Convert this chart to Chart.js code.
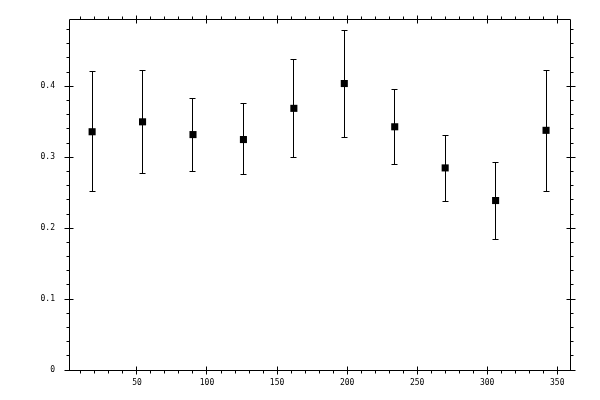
<!DOCTYPE html>
<html>
<head>
<meta charset="utf-8">
<script src="https://cdn.jsdelivr.net/npm/chart.js@4"></script>
<style>
    html, body { margin: 0; padding: 0; background: #fff; }
    #wrap { width: 600px; height: 400px; }
</style>
</head>
<body>
<div id="wrap"><canvas id="points_erreurs"></canvas></div>
<script>
// valeurs
const angles = [18, 54, 90, 126, 162, 198, 234, 270, 306, 342];
const moyennes = [0.336, 0.350, 0.332, 0.325, 0.369, 0.404, 0.343, 0.285, 0.239, 0.338];
const hautErreur = [0.421, 0.423, 0.383, 0.376, 0.438, 0.479, 0.396, 0.331, 0.293, 0.423];
const basErreur = [0.253, 0.278, 0.281, 0.276, 0.300, 0.329, 0.291, 0.239, 0.185, 0.253];

const xTicks = [50, 100, 150, 200, 250, 300, 350];
const xTickLabels = ['50', '100', '150', '200', '250', '300', '350'];
const yTicks = [0, 0.1, 0.2, 0.3, 0.4];
const yTickLabels = ['0', '0.1', '0.2', '0.3', '0.4'];

const snap = (v) => Math.round(v - 0.5) + 0.5;

const errorBars = {
    id: 'errorBars',
    beforeDatasetsDraw(chart) {
        let ctx = chart.ctx;
        let x = chart.scales.x;
        let y = chart.scales.y;
        ctx.save();
        ctx.strokeStyle = '#000';
        ctx.lineWidth = 1;
        angles.forEach((a, i) => {
            let px = snap(x.getPixelForValue(a));
            let top = Math.round(y.getPixelForValue(hautErreur[i])) + 0.5;
            let bottom = Math.round(y.getPixelForValue(basErreur[i])) + 0.5;
            ctx.beginPath();
            ctx.moveTo(px, top);
            ctx.lineTo(px, bottom);
            ctx.moveTo(px - 3, top);
            ctx.lineTo(px + 3, top);
            ctx.moveTo(px - 3, bottom);
            ctx.lineTo(px + 3, bottom);
            ctx.stroke();
        });
        ctx.restore();
    }
};

// cadre et graduations (majeures traversantes, mineures vers l'exterieur)
const frame = {
    id: 'frame',
    afterDraw(chart) {
        let ctx = chart.ctx;
        let area = chart.chartArea;
        let x = chart.scales.x;
        let y = chart.scales.y;
        let left = snap(area.left);
        let right = snap(area.right);
        let top = snap(area.top);
        let bottom = snap(area.bottom);
        ctx.save();
        ctx.strokeStyle = '#000';
        ctx.lineWidth = 1;
        ctx.beginPath();
        ctx.rect(left, top, right - left, bottom - top);
        // x
        for (let v = 10; v < x.max; v += 10) {
            let px = snap(x.getPixelForValue(v));
            let major = xTicks.includes(v);
            ctx.moveTo(px, bottom + (major ? 4 : 3));
            ctx.lineTo(px, bottom - (major ? 4 : 0));
            ctx.moveTo(px, top - (major ? 4 : 3));
            ctx.lineTo(px, top + (major ? 4 : 0));
        }
        // y
        for (let k = 0; k * 0.02 < y.max; k++) {
            let v = k * 0.02;
            let py = snap(y.getPixelForValue(v));
            let major = k % 5 === 0;
            ctx.moveTo(left - (major ? 5 : 3), py);
            ctx.lineTo(left + (major ? 4 : 0), py);
            ctx.moveTo(right + (major ? 5 : 3), py);
            ctx.lineTo(right - (major ? 4 : 0), py);
        }
        ctx.stroke();
        ctx.restore();
    }
};

let canvas = document.querySelector('#points_erreurs');
new Chart(canvas, {
    type: 'scatter',
    data: {
        datasets: [{
            label: 'moyenne',
            data: angles.map((a, i) => ({ x: a, y: moyennes[i] })),
            pointStyle: 'rect',
            pointRadius: 5,
            pointHoverRadius: 5,
            backgroundColor: '#000',
            borderColor: '#000',
            borderWidth: 0
        }]
    },
    options: {
        responsive: true,
        maintainAspectRatio: false,
        animation: false,
        events: [],
        layout: {
            padding: { top: 19, right: 30, left: 0, bottom: 0 }
        },
        plugins: {
            legend: { display: false },
            tooltip: { enabled: false }
        },
        scales: {
            x: {
                type: 'linear',
                min: 1.5,
                max: 359.1,
                afterFit: (scale) => { scale.height = 30; },
                afterBuildTicks: (scale) => { scale.ticks = xTicks.map(v => ({ value: v })); },
                grid: { display: false, drawTicks: false },
                border: { display: false },
                ticks: {
                    color: '#000',
                    padding: 8,
                    maxRotation: 0,
                    font: { family: 'DejaVu Sans Mono', size: 8 },
                    callback: (value) => xTickLabels[xTicks.indexOf(value)]
                }
            },
            y: {
                type: 'linear',
                min: 0,
                max: 0.495,
                afterFit: (scale) => { scale.width = 69; },
                afterBuildTicks: (scale) => { scale.ticks = yTicks.map(v => ({ value: v })); },
                grid: { display: false, drawTicks: false },
                border: { display: false },
                ticks: {
                    color: '#000',
                    padding: 14,
                    font: { family: 'DejaVu Sans Mono', size: 8 },
                    callback: (value) => yTickLabels[yTicks.indexOf(value)]
                }
            }
        }
    },
    plugins: [errorBars, frame]
});
</script>
</body>
</html>
